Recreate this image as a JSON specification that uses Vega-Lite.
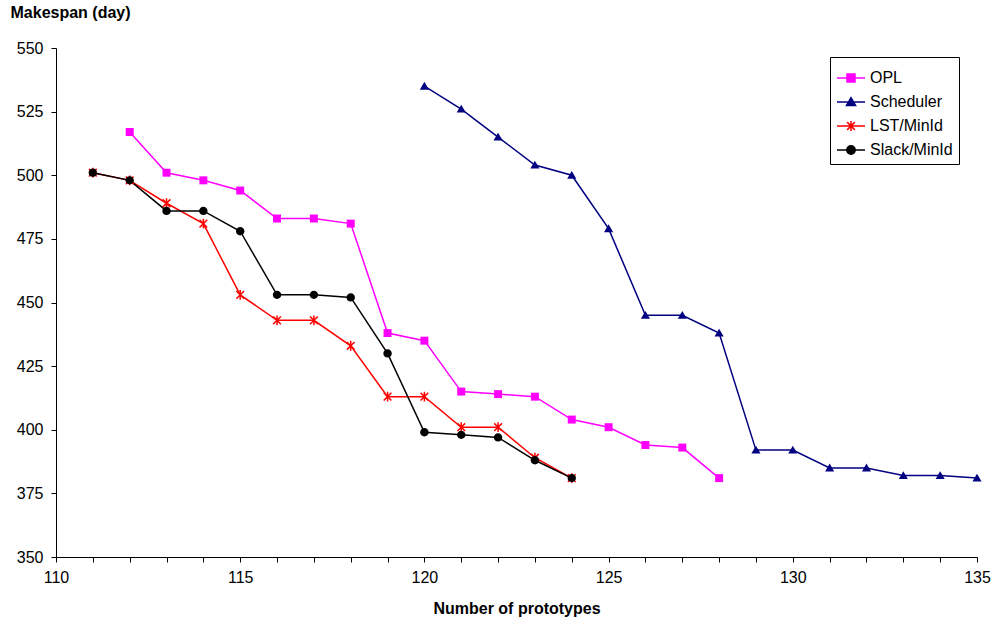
{
  "$schema": "https://vega.github.io/schema/vega-lite/v6.json",
  "autosize": {"type": "none"},
  "padding": {"left": 56, "top": 48, "right": 18, "bottom": 71},
  "width": 921,
  "height": 509,
  "background": "white",
  "config": {
    "view": {"stroke": null},
    "font": "Liberation Sans",
    "axis": {
      "grid": false,
      "domainColor": "black",
      "tickColor": "black",
      "tickSize": 5,
      "labelFont": "Liberation Sans",
      "labelFontSize": 16,
      "labelColor": "black",
      "titleFont": "Liberation Sans",
      "titleFontSize": 16,
      "titleFontWeight": "bold",
      "titleColor": "black"
    }
  },
  "data": {
    "values": [
      {"x": 112, "y": 517, "s": "OPL"},
      {"x": 113, "y": 501, "s": "OPL"},
      {"x": 114, "y": 498, "s": "OPL"},
      {"x": 115, "y": 494, "s": "OPL"},
      {"x": 116, "y": 483, "s": "OPL"},
      {"x": 117, "y": 483, "s": "OPL"},
      {"x": 118, "y": 481, "s": "OPL"},
      {"x": 119, "y": 438, "s": "OPL"},
      {"x": 120, "y": 435, "s": "OPL"},
      {"x": 121, "y": 415, "s": "OPL"},
      {"x": 122, "y": 414, "s": "OPL"},
      {"x": 123, "y": 413, "s": "OPL"},
      {"x": 124, "y": 404, "s": "OPL"},
      {"x": 125, "y": 401, "s": "OPL"},
      {"x": 126, "y": 394, "s": "OPL"},
      {"x": 127, "y": 393, "s": "OPL"},
      {"x": 128, "y": 381, "s": "OPL"},
      {"x": 120, "y": 535, "s": "Scheduler"},
      {"x": 121, "y": 526, "s": "Scheduler"},
      {"x": 122, "y": 515, "s": "Scheduler"},
      {"x": 123, "y": 504, "s": "Scheduler"},
      {"x": 124, "y": 500, "s": "Scheduler"},
      {"x": 125, "y": 479, "s": "Scheduler"},
      {"x": 126, "y": 445, "s": "Scheduler"},
      {"x": 127, "y": 445, "s": "Scheduler"},
      {"x": 128, "y": 438, "s": "Scheduler"},
      {"x": 129, "y": 392, "s": "Scheduler"},
      {"x": 130, "y": 392, "s": "Scheduler"},
      {"x": 131, "y": 385, "s": "Scheduler"},
      {"x": 132, "y": 385, "s": "Scheduler"},
      {"x": 133, "y": 382, "s": "Scheduler"},
      {"x": 134, "y": 382, "s": "Scheduler"},
      {"x": 135, "y": 381, "s": "Scheduler"},
      {"x": 111, "y": 501, "s": "LST/MinId"},
      {"x": 112, "y": 498, "s": "LST/MinId"},
      {"x": 113, "y": 489, "s": "LST/MinId"},
      {"x": 114, "y": 481, "s": "LST/MinId"},
      {"x": 115, "y": 453, "s": "LST/MinId"},
      {"x": 116, "y": 443, "s": "LST/MinId"},
      {"x": 117, "y": 443, "s": "LST/MinId"},
      {"x": 118, "y": 433, "s": "LST/MinId"},
      {"x": 119, "y": 413, "s": "LST/MinId"},
      {"x": 120, "y": 413, "s": "LST/MinId"},
      {"x": 121, "y": 401, "s": "LST/MinId"},
      {"x": 122, "y": 401, "s": "LST/MinId"},
      {"x": 123, "y": 389, "s": "LST/MinId"},
      {"x": 124, "y": 381, "s": "LST/MinId"},
      {"x": 111, "y": 501, "s": "Slack/MinId"},
      {"x": 112, "y": 498, "s": "Slack/MinId"},
      {"x": 113, "y": 486, "s": "Slack/MinId"},
      {"x": 114, "y": 486, "s": "Slack/MinId"},
      {"x": 115, "y": 478, "s": "Slack/MinId"},
      {"x": 116, "y": 453, "s": "Slack/MinId"},
      {"x": 117, "y": 453, "s": "Slack/MinId"},
      {"x": 118, "y": 452, "s": "Slack/MinId"},
      {"x": 119, "y": 430, "s": "Slack/MinId"},
      {"x": 120, "y": 399, "s": "Slack/MinId"},
      {"x": 121, "y": 398, "s": "Slack/MinId"},
      {"x": 122, "y": 397, "s": "Slack/MinId"},
      {"x": 123, "y": 388, "s": "Slack/MinId"},
      {"x": 124, "y": 381, "s": "Slack/MinId"}
    ]
  },
  "encoding": {
    "x": {
      "field": "x",
      "type": "quantitative",
      "title": "Number of prototypes",
      "scale": {"domain": [110, 135], "nice": false, "zero": false},
      "axis": {
        "values": [110,111,112,113,114,115,116,117,118,119,120,121,122,123,124,125,126,127,128,129,130,131,132,133,134,135],
        "labelExpr": "datum.value % 5 === 0 ? datum.label : ''",
        "labelPadding": 7,
        "labelFlush": false,
        "labelOverlap": false,
        "titleY": 56,
        "titleBaseline": "alphabetic"
      }
    },
    "y": {
      "field": "y",
      "type": "quantitative",
      "title": "Makespan (day)",
      "scale": {"domain": [350, 550], "nice": false, "zero": false},
      "axis": {
        "values": [350, 375, 400, 425, 450, 475, 500, 525, 550],
        "labelPadding": 8,
        "labelFlush": false,
        "titleAngle": 0,
        "titleAlign": "left",
        "titleBaseline": "alphabetic",
        "titleX": -46,
        "titleY": -31
      }
    }
  },
  "layer": [
    {
      "mark": {"type": "line", "strokeWidth": 1.5},
      "encoding": {
        "color": {
          "field": "s",
          "type": "nominal",
          "scale": {
            "domain": ["OPL", "Scheduler", "LST/MinId", "Slack/MinId"],
            "range": ["#FF00FF", "#000080", "#FF0000", "#000000"]
          },
          "legend": {
            "orient": "none",
            "legendX": 774,
            "legendY": 9,
            "title": null,
            "labelFont": "Liberation Sans",
            "labelFontSize": 16,
            "labelColor": "black",
            "strokeColor": "black",
            "fillColor": "white",
            "padding": 6,
            "rowPadding": 1,
            "symbolSize": 784,
            "symbolOffset": 0,
            "labelOffset": 4,
            "encode": {
              "symbols": {
                "update": {
                  "shape": {"signal": "datum.value === 'OPL' ? 'M-1,0L1,0M-0.285,-0.285L0.285,-0.285L0.285,0.285L-0.285,0.285Z' : datum.value === 'Scheduler' ? 'M-1,0L1,0M0,-0.31L0.325,0.25L-0.325,0.25Z' : datum.value === 'LST/MinId' ? 'M-1,0L1,0M-0.275,-0.275L0.275,0.275M-0.275,0.275L0.275,-0.275M0,-0.35L0,0.35' : 'M-1,0L1,0M0.3,0A0.3,0.3,0,1,1,-0.3,0A0.3,0.3,0,1,1,0.3,0Z'"},
                  "size": {"value": 784},
                  "fill": {"scale": "color", "field": "value"},
                  "stroke": {"scale": "color", "field": "value"},
                  "strokeWidth": {"value": 1.5},
                  "opacity": {"value": 1},
                  "fillOpacity": {"value": 1},
                  "strokeOpacity": {"value": 1}
                }
              }
            }
          }
        }
      }
    },
    {
      "transform": [{"filter": "datum.s === 'OPL'"}],
      "mark": {"type": "point", "shape": "M-0.57,-0.57H0.57V0.57H-0.57Z", "filled": true, "size": 196, "color": "#FF00FF", "opacity": 1}
    },
    {
      "transform": [{"filter": "datum.s === 'Scheduler'"}],
      "mark": {"type": "point", "shape": "M0,-0.62L0.65,0.5H-0.65Z", "filled": true, "size": 196, "color": "#000080", "opacity": 1}
    },
    {
      "transform": [{"filter": "datum.s === 'LST/MinId'"}],
      "mark": {"type": "point", "shape": "M-0.55,-0.55L0.55,0.55M-0.55,0.55L0.55,-0.55M0,-0.7V0.7", "filled": false, "size": 196, "color": "#FF0000", "strokeWidth": 1.5, "opacity": 1}
    },
    {
      "transform": [{"filter": "datum.s === 'Slack/MinId'"}],
      "mark": {"type": "point", "shape": "M0.6,0A0.6,0.6,0,1,1,-0.6,0A0.6,0.6,0,1,1,0.6,0Z", "filled": true, "size": 196, "color": "#000000", "opacity": 1}
    }
  ]
}
